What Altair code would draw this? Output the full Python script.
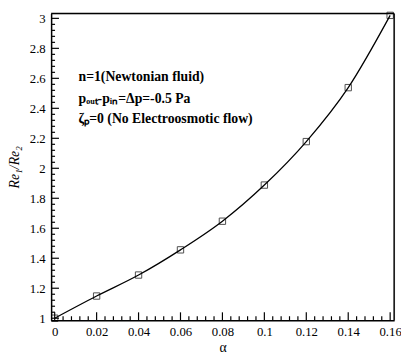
import altair as alt
import pandas as pd
import numpy as np

alpha = [0.0, 0.02, 0.04, 0.06, 0.08, 0.10, 0.12, 0.14, 0.16]
ratio = [1.0, 1.148, 1.288, 1.456, 1.647, 1.888, 2.178, 2.538, 3.02]

x_major = [0, 0.02, 0.04, 0.06, 0.08, 0.1, 0.12, 0.14, 0.16]
y_major = [1, 1.2, 1.4, 1.6, 1.8, 2, 2.2, 2.4, 2.6, 2.8, 3]
x_minor = [float(round(v, 4)) for v in np.arange(0, 0.1601, 0.004) if round(v / 0.02, 4) % 1 != 0]
y_minor = [float(round(v, 4)) for v in np.arange(1, 3.001, 0.04) if round((v - 1) / 0.2, 4) % 1 != 0]

W, H = 350, 313
FONT = "Liberation Serif"
XD = [-0.0017, 0.1619]
YD = [0.987, 3.033]

df = pd.DataFrame({"alpha": alpha, "ratio": ratio})
xs = alt.Scale(domain=XD, nice=False, zero=False)
ys = alt.Scale(domain=YD, nice=False, zero=False)

xaxis = alt.Axis(values=x_major, format="~g", ticks=False, grid=False,
                 labelFont=FONT, labelFontSize=13, labelColor="black",
                 titleFont=FONT, titleFontSize=14, titleFontWeight="normal",
                 titleColor="black", labelPadding=6, titlePadding=2,
                 domainColor="black", domainWidth=1.5)
yaxis = alt.Axis(values=y_major, format="~g", ticks=False, grid=False,
                 labelFont=FONT, labelFontSize=13, labelColor="black",
                 titleFont=FONT, titleFontSize=14, titleFontWeight="normal",
                 titleFontStyle="italic", titleColor="black",
                 labelPadding=6, titlePadding=8,
                 domainColor="black", domainWidth=1.5)

base = alt.Chart(df)
line = base.mark_line(color="black", strokeWidth=1.3, interpolate="monotone").encode(
    x=alt.X("alpha:Q", scale=xs, title="α", axis=xaxis),
    y=alt.Y("ratio:Q", scale=ys, title="Re₁/Re₂", axis=yaxis))
pts = base.mark_point(shape="square", size=42, color="black", filled=False, strokeWidth=1).encode(
    x=alt.X("alpha:Q", scale=xs, title="α", axis=xaxis),
    y=alt.Y("ratio:Q", scale=ys, title="Re₁/Re₂", axis=yaxis))

def xticks(vals, ln):
    d = pd.DataFrame({"v": vals})
    return alt.Chart(d).mark_rule(color="black", strokeWidth=1.2).encode(
        x=alt.X("v:Q", scale=xs, axis=None), y=alt.value(H), y2=alt.value(H - ln))

def yticks(vals, ln):
    d = pd.DataFrame({"v": vals})
    return alt.Chart(d).mark_rule(color="black", strokeWidth=1.2).encode(
        y=alt.Y("v:Q", scale=ys, axis=None), x=alt.value(0), x2=alt.value(ln))

ticks = alt.layer(xticks(x_major, 8), xticks(x_minor, 4), yticks(y_major, 8), yticks(y_minor, 4))

frame = alt.Chart(pd.DataFrame({"k": [0]})).mark_rule(color="black", strokeWidth=1.5).encode(
    x=alt.value(0), x2=alt.value(W), y=alt.value(0))
frame_r = alt.Chart(pd.DataFrame({"k": [0]})).mark_rule(color="black", strokeWidth=1.5).encode(
    x=alt.value(W), y=alt.value(0), y2=alt.value(H))

lines_txt = [
    ("n=1(Newtonian fluid)", 65),
    ("pₒᵤₜ-pᵢₙ=Δp=-0.5 Pa", 87),
    ("ζₚ=0 (No Electroosmotic flow)", 108),
]
texts = []
for t, yy in lines_txt:
    texts.append(alt.Chart(pd.DataFrame({"t": [t]})).mark_text(
        font=FONT, fontSize=14, fontWeight="bold", align="left", baseline="middle", color="black"
    ).encode(text="t:N", x=alt.value(28), y=alt.value(yy)))

main = alt.layer(line, pts, frame, frame_r, *texts)

chart = alt.layer(main, ticks).resolve_axis(x="independent", y="independent").properties(
    width=W, height=H,
    padding={"left": 44, "top": 2, "right": 7, "bottom": 31},
    autosize="none",
).configure(background="white")

chart.save("out.html", embed_options={"renderer": "svg", "actions": False})
